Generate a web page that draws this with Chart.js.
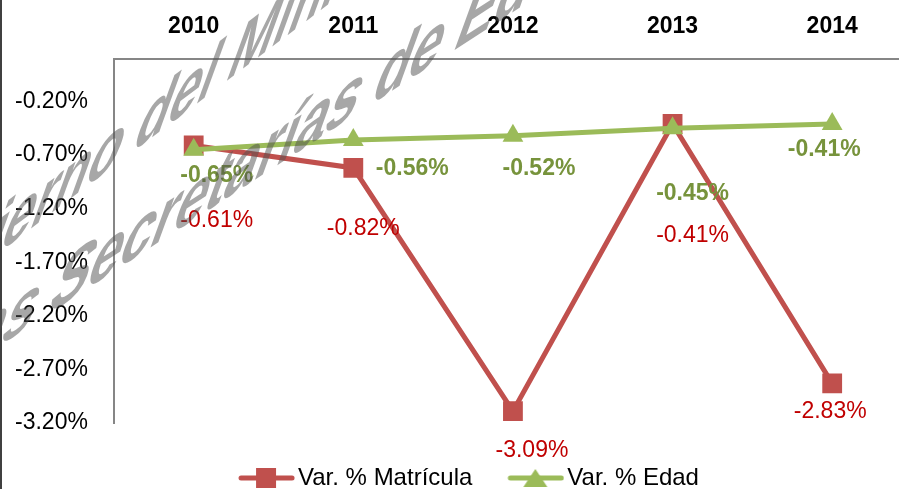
<!DOCTYPE html>
<html>
<head>
<meta charset="utf-8">
<script src="https://cdn.jsdelivr.net/npm/chart.js@4.4.0/dist/chart.umd.min.js"></script>
<style>
    html, body { margin: 0; padding: 0; background: #fff; overflow: hidden; }
    #wrap { position: relative; width: 912px; height: 500px; }
</style>
</head>
<body>
<div id="wrap"><canvas id="lineChart" width="912" height="500"></canvas></div>
<script>
// 数据
const years = ['2010', '2011', '2012', '2013', '2014'];
const matricula = [-0.61, -0.82, -3.09, -0.41, -2.83];
const edad = [-0.65, -0.56, -0.52, -0.45, -0.41];
const yTicks = [-3.2, -2.7, -2.2, -1.7, -1.2, -0.7, -0.2];
const seriesNames = ['Var. % Matrícula', 'Var. % Edad'];

// 数据标签相对数据点的偏移 (px)
const matriculaLabelOffsets = [[23, 75], [10, 61], [19, 39], [20, 112], [-2, 28]];
const edadLabelOffsets = [[23, 26], [59, 29], [26, 33], [20, 65], [-8, 26]];

// 水印 (angle: 基线倾角)
const watermarkLines = [
    { text: 'Gobierno del Ministerio de Educación Nacional', lead: 'Gobi', x: -3, y: 254, angle: 37 },
    { text: 'de las Secretarías de Educación', lead: 'de las ', x: 45, y: 316, angle: 33 }
];

const FONT = '"Liberation Sans", Arial, sans-serif';
const RED = '#C0504D';
const GREEN = '#9BBB59';
const AXIS = '#868686';

/**
 * 图例标记 (线 + 点)
 */
function makeLegendMarker(color, shape) {
    const c = document.createElement('canvas');
    c.width = 76;
    c.height = 24;
    const ctx = c.getContext('2d');
    ctx.strokeStyle = color;
    ctx.fillStyle = color;
    ctx.lineWidth = 5;
    ctx.lineCap = 'round';
    ctx.beginPath();
    ctx.moveTo(22, 12);
    ctx.lineTo(73, 12);
    ctx.stroke();
    if (shape === 'rect') {
        ctx.fillRect(37, 2, 20, 20);
    } else {
        ctx.beginPath();
        ctx.moveTo(47, 3);
        ctx.lineTo(59, 21);
        ctx.lineTo(35, 21);
        ctx.closePath();
        ctx.fill();
    }
    return c;
}
const legendMarkers = [makeLegendMarker(RED, 'rect'), makeLegendMarker(GREEN, 'triangle')];

// 左侧边框
const framePlugin = {
    id: 'frame',
    beforeDraw(chart) {
        const ctx = chart.ctx;
        ctx.save();
        ctx.fillStyle = '#fff';
        ctx.fillRect(0, 0, chart.width, chart.height);
        ctx.fillStyle = '#404040';
        ctx.fillRect(0, 0, 2, chart.height);
        ctx.restore();
    }
};

// 数据标签
const dataLabelPlugin = {
    id: 'dataLabels',
    afterDatasetsDraw(chart) {
        const ctx = chart.ctx;
        const specs = [
            { values: matricula, offsets: matriculaLabelOffsets, color: '#C00000', weight: 'normal' },
            { values: edad, offsets: edadLabelOffsets, color: '#77933C', weight: 'bold' }
        ];
        ctx.save();
        ctx.textAlign = 'center';
        ctx.textBaseline = 'middle';
        specs.forEach((s, di) => {
            const meta = chart.getDatasetMeta(di);
            ctx.fillStyle = s.color;
            ctx.font = `${s.weight} 23px ${FONT}`;
            meta.data.forEach((pt, i) => {
                ctx.fillText(s.values[i].toFixed(2) + '%', pt.x + s.offsets[i][0], pt.y + s.offsets[i][1]);
            });
        });
        ctx.restore();
    }
};

// 倾斜水印
const watermarkPlugin = {
    id: 'watermark',
    afterDraw(chart) {
        const ctx = chart.ctx;
        const b = 70 * Math.PI / 180;
        const sy = 1.35;
        ctx.save();
        ctx.font = `bold 68px ${FONT}`;
        ctx.fillStyle = 'rgba(80, 80, 80, 0.5)';
        ctx.textBaseline = 'alphabetic';
        watermarkLines.forEach(w => {
            const a = w.angle * Math.PI / 180;
            const lead = ctx.measureText(w.lead).width;
            ctx.setTransform(Math.cos(a), -Math.sin(a), -Math.cos(b) * sy, Math.sin(b) * sy, w.x, w.y);
            ctx.fillText(w.text, -lead, 0);
        });
        ctx.restore();
    }
};

const lineChart = new Chart(document.getElementById('lineChart').getContext('2d'), {
    type: 'line',
    data: {
        labels: years,
        datasets: [{
            label: seriesNames[0],
            data: matricula,
            borderColor: RED,
            backgroundColor: RED,
            borderWidth: 5,
            pointStyle: 'rect',
            pointRadius: 14,
            pointBorderWidth: 0,
            order: 2
        }, {
            label: seriesNames[1],
            data: edad,
            borderColor: GREEN,
            backgroundColor: GREEN,
            borderWidth: 5,
            pointStyle: 'triangle',
            pointRadius: 12,
            pointBorderWidth: 0,
            order: 1
        }]
    },
    options: {
        responsive: false,
        animation: false,
        events: [],
        layout: { autoPadding: false, padding: { top: 13, left: 15, right: 0, bottom: 0 } },
        plugins: {
            tooltip: { enabled: false },
            legend: {
                position: 'bottom',
                labels: {
                    usePointStyle: true,
                    pointStyleWidth: 58,
                    padding: 25,
                    color: '#000',
                    font: { family: FONT, size: 24 },
                    sort: (a, b) => a.datasetIndex - b.datasetIndex,
                    generateLabels(chart) {
                        const items = Chart.defaults.plugins.legend.labels.generateLabels(chart);
                        items.forEach(it => { it.pointStyle = legendMarkers[it.datasetIndex]; });
                        return items;
                    }
                }
            }
        },
        scales: {
            x: {
                type: 'category',
                position: 'top',
                offset: true,
                grid: { display: true, drawOnChartArea: false, drawTicks: true, tickLength: 18, tickColor: 'rgba(0,0,0,0)' },
                border: { display: true, color: AXIS, width: 2 },
                ticks: { color: '#000', padding: 0, font: { family: FONT, size: 23, weight: 'bold' } }
            },
            gap: {
                type: 'category',
                position: 'bottom',
                grid: { display: false, drawTicks: false },
                border: { display: false },
                ticks: { display: false },
                afterFit(scale) { scale.height = 18; }
            },
            y: {
                min: -3.2,
                max: 0.2,
                grid: { display: true, drawOnChartArea: false, drawTicks: true, tickLength: 26, tickColor: 'rgba(0,0,0,0)' },
                border: { display: true, color: AXIS, width: 2 },
                afterBuildTicks(scale) {
                    scale.ticks = yTicks.map(v => ({ value: v }));
                },
                ticks: {
                    color: '#000',
                    padding: 0,
                    autoSkip: false,
                    font: { family: FONT, size: 23 },
                    callback: v => v.toFixed(2) + '%'
                }
            }
        }
    },
    plugins: [framePlugin, dataLabelPlugin, watermarkPlugin]
});
</script>
</body>
</html>
